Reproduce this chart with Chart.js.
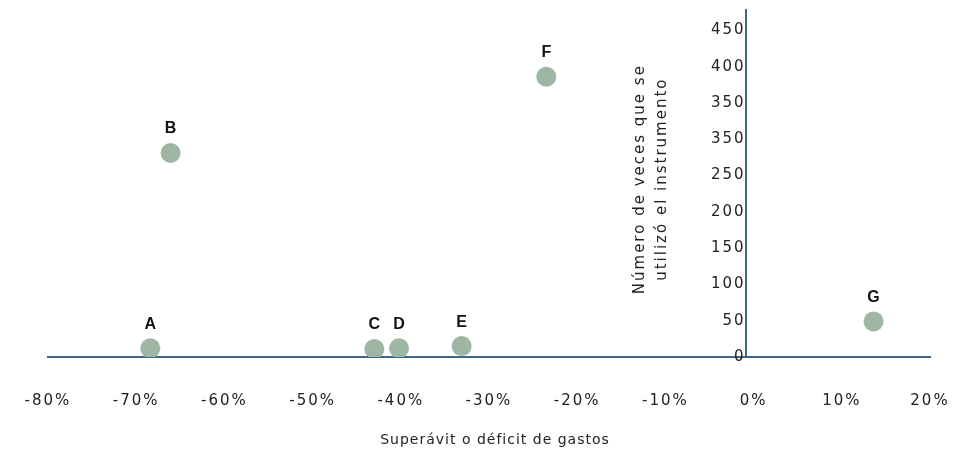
<!DOCTYPE html>
<html>
<head>
<meta charset="utf-8">
<script src="https://cdn.jsdelivr.net/npm/chart.js@4"></script>
<style>
  html, body { margin: 0; padding: 0; background: #fff; }
  #wrap { width: 963px; height: 457px; }
</style>
</head>
<body>
<div id="wrap"><canvas id="myChart"></canvas></div>
<script>
// data
const pointLabels = ['A', 'B', 'C', 'D', 'E', 'F', 'G'];
const gastoPct = [-68.4, -66.1, -43.0, -40.2, -33.1, -23.5, 13.6];
const vecesUso = [12, 281, 11, 12, 15, 386, 49];
const yTickValues = [0, 50, 100, 150, 200, 250, 300, 350, 400, 450];
const yTickLabels = ['0', '50', '100', '150', '200', '250', '350', '350', '400', '450'];
const yTitleLines = ['Número de veces que se', 'utilizó el instrumento'];
const xTitle = 'Superávit o déficit de gastos';

const axisColor = '#3e6880';
const dotColor = '#a0b6a4';
const spacing = '2px';
// the vertical axis sits a little left of 0% in the original
const yAxisCross = -0.9;

// the original text is widely spaced, canvas state gets reset on resize so set it each time
const spaced = {
  id: 'spaced',
  beforeLayout(chart) { chart.ctx.letterSpacing = spacing; },
  beforeDraw(chart) { chart.ctx.letterSpacing = spacing; }
};

// letters over each dot + both axis titles
const extras = {
  id: 'extras',
  afterDatasetsDraw(chart) {
    const ctx = chart.ctx;
    const meta = chart.getDatasetMeta(0);
    ctx.save();
    ctx.letterSpacing = '0px';
    ctx.fillStyle = '#111';
    ctx.font = 'bold 16px "Liberation Sans"';
    ctx.textAlign = 'center';
    ctx.textBaseline = 'middle';
    meta.data.forEach(function (pt, i) {
      ctx.fillText(pointLabels[i], pt.x, pt.y - 24);
    });
    ctx.restore();

    const yAxis = chart.scales.y;
    const xAxis = chart.scales.x;
    ctx.save();
    ctx.letterSpacing = spacing;
    ctx.fillStyle = '#222';
    ctx.font = '15px "DejaVu Sans"';
    ctx.textAlign = 'center';
    ctx.textBaseline = 'middle';
    ctx.translate(xAxis.getPixelForValue(yAxisCross) - 95, yAxis.getPixelForValue(245));
    ctx.rotate(-Math.PI / 2);
    ctx.fillText(yTitleLines[0], 0, -11);
    ctx.fillText(yTitleLines[1], 0, 11);
    ctx.restore();

    ctx.save();
    ctx.letterSpacing = '1px';
    ctx.fillStyle = '#222';
    ctx.font = '14px "DejaVu Sans"';
    ctx.textAlign = 'center';
    ctx.textBaseline = 'middle';
    ctx.fillText(xTitle, (xAxis.left + xAxis.right) / 2 + 6, 440);
    ctx.restore();
  }
};

const points = gastoPct.map(function (v, i) { return { x: v, y: vecesUso[i] }; });

new Chart(document.getElementById('myChart'), {
  type: 'scatter',
  data: {
    datasets: [{
      data: points,
      backgroundColor: dotColor,
      borderWidth: 0,
      pointRadius: 10,
      pointHoverRadius: 10
    }]
  },
  options: {
    responsive: true,
    maintainAspectRatio: false,
    animation: false,
    layout: { padding: { left: 48, right: 33, top: 4, bottom: 0 } },
    plugins: { legend: { display: false }, tooltip: { enabled: false } },
    scales: {
      x: {
        type: 'linear',
        min: -80,
        max: 20,
        grid: { display: false, drawTicks: false },
        border: { display: true, color: axisColor, width: 2 },
        afterFit: function (axis) {
          axis.height = 100;
          axis.paddingLeft = 0;
          axis.paddingRight = 0;
        },
        ticks: {
          stepSize: 10,
          padding: 35,
          color: '#222',
          font: { family: 'DejaVu Sans', size: 15 },
          callback: function (v) { return v + '%'; }
        },
        title: { display: false }
      },
      y: {
        type: 'linear',
        position: { x: yAxisCross },
        min: 0,
        max: 478,
        grid: { display: false, drawTicks: false },
        border: { display: true, color: axisColor, width: 2 },
        afterFit: function (axis) {
          axis.paddingTop = 0;
          axis.paddingBottom = 0;
        },
        afterBuildTicks: function (axis) {
          axis.ticks = yTickValues.map(function (v) { return { value: v }; });
        },
        ticks: {
          padding: 11,
          color: '#222',
          font: { family: 'DejaVu Sans', size: 15 },
          callback: function (v) {
            const i = yTickValues.indexOf(v);
            return i >= 0 ? yTickLabels[i] : '';
          }
        }
      }
    }
  },
  plugins: [spaced, extras]
});
</script>
</body>
</html>
